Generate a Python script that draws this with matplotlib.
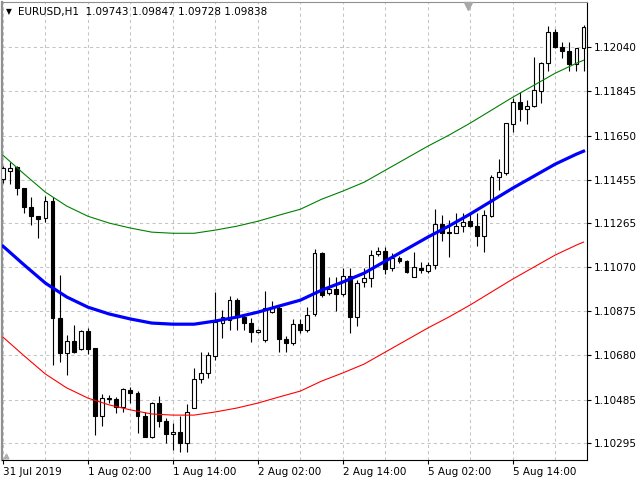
import matplotlib
matplotlib.use("Agg")
import matplotlib.pyplot as plt

# EURUSD H1 bars (oldest first)
opens = [1.11458, 1.11493, 1.11511, 1.11418, 1.11334, 1.11295, 1.11286, 1.11361, 1.10845, 1.10691,
         1.10743, 1.10708, 1.10788, 1.10713, 1.10413, 1.10488, 1.10488, 1.10452, 1.10527, 1.10514,
         1.10413, 1.10320, 1.10470, 1.10391, 1.10333, 1.10342, 1.10294, 1.10448, 1.10576, 1.10602,
         1.10677, 1.10823, 1.10836, 1.10924, 1.10849, 1.10823, 1.10783, 1.10748, 1.10871, 1.10889,
         1.10752, 1.10735, 1.10818, 1.10792, 1.10863, 1.11132, 1.10955, 1.10973, 1.10951, 1.11030,
         1.10849, 1.11004, 1.11021, 1.11127, 1.11140, 1.11065, 1.11110, 1.11096, 1.11026, 1.11065,
         1.11052, 1.11079, 1.11259, 1.11224, 1.11220, 1.11251, 1.11273, 1.11251, 1.11207, 1.11295,
         1.11467, 1.11484, 1.11700, 1.11798, 1.11767, 1.11780, 1.11846, 1.11969, 1.12106, 1.12040,
         1.12022, 1.11965, 1.12036]
highs = [1.11515, 1.11533, 1.11515, 1.11418, 1.11379, 1.11295, 1.11383, 1.11379, 1.11035, 1.10770,
         1.10814, 1.10792, 1.10801, 1.10713, 1.10510, 1.10505, 1.10497, 1.10536, 1.10541, 1.10523,
         1.10430, 1.10474, 1.10501, 1.10404, 1.10382, 1.10413, 1.10466, 1.10624, 1.10695, 1.10695,
         1.10960, 1.10880, 1.10942, 1.10933, 1.10858, 1.10845, 1.10796, 1.10964, 1.10920, 1.10902,
         1.10766, 1.10841, 1.10841, 1.10893, 1.11149, 1.11136, 1.11026, 1.11026, 1.11065, 1.11065,
         1.11013, 1.11065, 1.11145, 1.11158, 1.11158, 1.11132, 1.11118, 1.11101, 1.11136, 1.11092,
         1.11092, 1.11326, 1.11299, 1.11277, 1.11308, 1.11308, 1.11308, 1.11308, 1.11321, 1.11476,
         1.11546, 1.11705, 1.11815, 1.11842, 1.11806, 1.11996, 1.11974, 1.12133, 1.12119, 1.12062,
         1.12062, 1.12036, 1.12137]
lows = [1.11440, 1.11436, 1.11387, 1.11308, 1.11255, 1.11198, 1.11268, 1.10638, 1.10651, 1.10594,
        1.10691, 1.10704, 1.10686, 1.10329, 1.10369, 1.10470, 1.10426, 1.10430, 1.10470, 1.10338,
        1.10320, 1.10316, 1.10364, 1.10294, 1.10263, 1.10254, 1.10254, 1.10448, 1.10558, 1.10580,
        1.10660, 1.10757, 1.10792, 1.10792, 1.10792, 1.10739, 1.10779, 1.10739, 1.10867, 1.10695,
        1.10695, 1.10726, 1.10779, 1.10783, 1.10854, 1.10938, 1.10946, 1.10876, 1.10942, 1.10779,
        1.10810, 1.10982, 1.10982, 1.11118, 1.11039, 1.11052, 1.11087, 1.11043, 1.11026, 1.11043,
        1.11043, 1.11061, 1.11185, 1.11114, 1.11220, 1.11224, 1.11246, 1.11162, 1.11136, 1.11290,
        1.11409, 1.11476, 1.11665, 1.11714, 1.11700, 1.11775, 1.11793, 1.11934, 1.12036, 1.11992,
        1.11934, 1.11934, 1.11934]
closes = [1.11506, 1.11506, 1.11418, 1.11334, 1.11295, 1.11282, 1.11361, 1.10845, 1.10691, 1.10743,
          1.10695, 1.10788, 1.10708, 1.10413, 1.10492, 1.10492, 1.10452, 1.10532, 1.10514, 1.10413,
          1.10320, 1.10470, 1.10391, 1.10333, 1.10342, 1.10294, 1.10430, 1.10576, 1.10602, 1.10682,
          1.10827, 1.10849, 1.10924, 1.10849, 1.10823, 1.10783, 1.10792, 1.10889, 1.10889, 1.10752,
          1.10735, 1.10818, 1.10792, 1.10858, 1.11132, 1.10946, 1.10973, 1.10951, 1.11030, 1.10849,
          1.10999, 1.11021, 1.11123, 1.11140, 1.11061, 1.11110, 1.11096, 1.11048, 1.11070, 1.11057,
          1.11079, 1.11259, 1.11220, 1.11220, 1.11251, 1.11268, 1.11251, 1.11207, 1.11299, 1.11467,
          1.11489, 1.11705, 1.11798, 1.11767, 1.11780, 1.11850, 1.11969, 1.12106, 1.12040, 1.12022,
          1.11965, 1.12036, 1.12128]

# regression channel, read every third bar
band_bars = [0, 3, 6, 9, 12, 15, 18, 21, 24, 27, 30, 33, 36, 39, 42, 45, 48, 51, 54, 57,
             60, 63, 66, 69, 72, 75, 78, 81, 82]
mid_line = [1.11162, 1.11079, 1.10999, 1.10938, 1.10893, 1.10863, 1.10841, 1.10823, 1.10818, 1.10818,
            1.10832, 1.10849, 1.10871, 1.10898, 1.10924, 1.10968, 1.11004, 1.11043, 1.11096, 1.11149,
            1.11202, 1.11251, 1.11304, 1.11361, 1.11418, 1.11471, 1.11524, 1.11568, 1.11581]
upper_line = [1.11563, 1.11480, 1.11400, 1.11339, 1.11294, 1.11264, 1.11242, 1.11224, 1.11219, 1.11219,
              1.11233, 1.11250, 1.11272, 1.11299, 1.11325, 1.11369, 1.11405, 1.11444, 1.11497, 1.11550,
              1.11603, 1.11652, 1.11705, 1.11762, 1.11819, 1.11872, 1.11925, 1.11969, 1.11982]
lower_line = [1.10761, 1.10678, 1.10598, 1.10537, 1.10492, 1.10462, 1.10440, 1.10422, 1.10417, 1.10417,
              1.10431, 1.10448, 1.10470, 1.10497, 1.10523, 1.10567, 1.10603, 1.10642, 1.10695, 1.10748,
              1.10801, 1.10850, 1.10903, 1.10960, 1.11017, 1.11070, 1.11123, 1.11167, 1.11180]

price_ticks = [1.12040, 1.11845, 1.11650, 1.11455, 1.11265, 1.11070, 1.10875, 1.10680, 1.10485, 1.10295]
time_tick_bars = [0, 12, 24, 36, 48, 60, 72]
time_labels = ["31 Jul 2019", "1 Aug 02:00", "1 Aug 14:00", "2 Aug 02:00",
               "2 Aug 14:00", "5 Aug 02:00", "5 Aug 14:00"]
grid_bars = [6, 18, 30, 42, 54, 66, 78]
header = "EURUSD,H1  1.09743 1.09847 1.09728 1.09838"

plt.rcParams["font.family"] = ["DejaVu Sans"]

fig = plt.figure(figsize=(6.4, 4.8), dpi=100)
ax = fig.add_axes([2 / 640, 20 / 480, 585 / 640, 458 / 480])

bars = list(range(len(opens)))

# wicks, then bodies
ax.vlines(bars, lows, highs, color="black", linewidth=0.8, zorder=2)
bottoms = [min(o, c) for o, c in zip(opens, closes)]
heights = [abs(c - o) for o, c in zip(opens, closes)]
fills = ["white" if c >= o else "black" for o, c in zip(opens, closes)]
ax.bar(bars, heights, bottom=bottoms, width=0.55, color=fills,
       edgecolor="black", linewidth=0.8, zorder=3)

# channel lines on top
ax.plot(band_bars, upper_line, color="#008000", linewidth=0.8, zorder=4)
ax.plot(band_bars, lower_line, color="#ff0000", linewidth=0.8, zorder=4)
ax.plot(band_bars, mid_line, color="#0000ff", linewidth=2.3, zorder=5)

ax.set_xlim(-0.14, 82.49)
ax.set_ylim(1.10219, 1.12239)

ax.yaxis.tick_right()
ax.set_yticks(price_ticks)
ax.set_yticklabels([f"{p:.5f}" for p in price_ticks])
ax.set_xticks(time_tick_bars)
ax.set_xticklabels(time_labels, ha="left")
ax.set_xticks(grid_bars, minor=True)

ax.tick_params(axis="both", which="major", direction="out", length=3, width=0.8,
               labelsize=7.5, pad=2, colors="black")
ax.tick_params(axis="both", which="minor", length=0)
ax.tick_params(axis="y", left=False, right=True)

ax.grid(True, which="both", color="#c4c4c4", linestyle=(0, (3, 3)), linewidth=0.75, zorder=0)
ax.set_axisbelow(True)

ax.spines["left"].set_color("#909090")
ax.spines["left"].set_linewidth(1.6)
ax.spines["top"].set_color("#909090")
ax.spines["top"].set_linewidth(0.8)
ax.spines["right"].set_color("black")
ax.spines["right"].set_linewidth(0.8)
ax.spines["bottom"].set_color("black")
ax.spines["bottom"].set_linewidth(0.8)

# chart shift markers
ax.plot([0.797], [0.992], marker="v", markersize=6, color="#a8a8a8",
        transform=ax.transAxes, clip_on=False, zorder=6)
ax.plot([0.006], [0.008], marker="^", markersize=3.5, color="#b0b0b0",
        transform=ax.transAxes, clip_on=False, zorder=6)

fig.text(9 / 640, 1 - 12 / 480, "\u25bc", fontsize=5.5, ha="center", va="center")
fig.text(18 / 640, 1 - 12 / 480, header, fontsize=7.5, ha="left", va="center")

fig.savefig("out.png", dpi=100)
